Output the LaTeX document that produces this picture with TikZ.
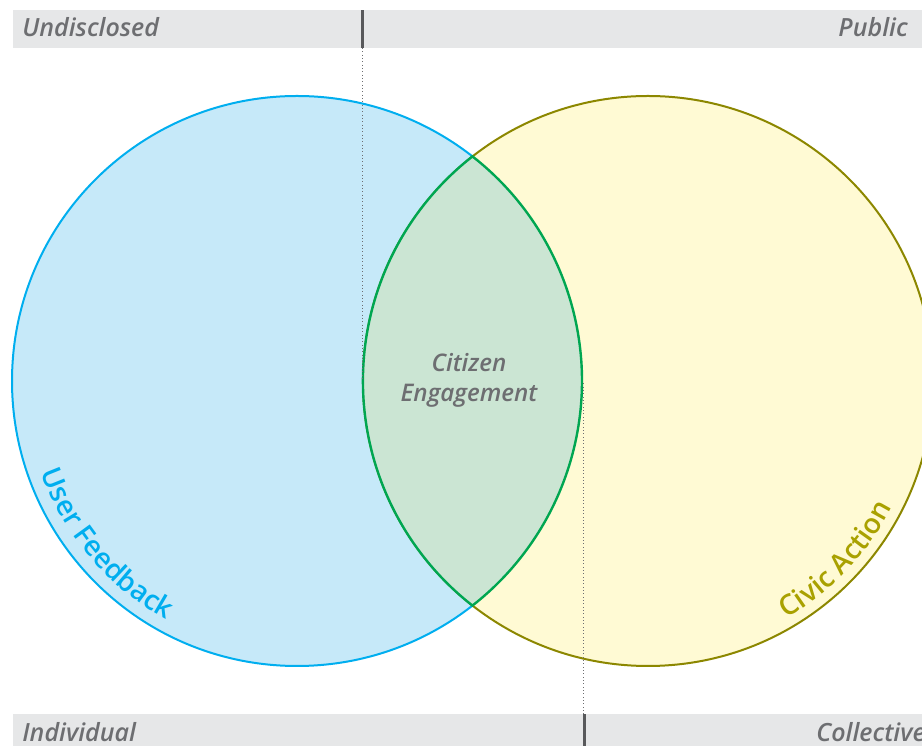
\documentclass[tikz,border=0pt]{standalone}
\usepackage{fontspec}
\setmainfont{Open Sans}
\newfontfamily\semifont{Open Sans Semibold}[ItalicFont={Open Sans Semibold Italic}]
\usepackage{tikz}
\usetikzlibrary{positioning}
\usetikzlibrary{decorations.text}

\definecolor{barfill}{HTML}{E6E7E8}
\definecolor{bartext}{HTML}{6D6E71}
\definecolor{divider}{HTML}{58595B}
\definecolor{userblue}{HTML}{00AEEF}
\definecolor{userfill}{HTML}{C6E9F9}
\definecolor{civicline}{HTML}{8C8700}
\definecolor{civictext}{HTML}{A9A100}
\definecolor{civicfill}{HTML}{FFFAD4}
\definecolor{lensline}{HTML}{00A651}
\definecolor{lensfill}{HTML}{CBE5D3}

\newcommand{\barfont}{\semifont\fontsize{18.8}{22}\selectfont\itshape}
\newcommand{\lensfont}{\semifont\fontsize{18.2}{22}\selectfont\itshape}
\newcommand{\ringfont}{\fontsize{21}{24}\selectfont}

\tikzset{
	barlabel/.style={font=\barfont, text=bartext, inner sep=0pt},
	lenslabel/.style={font=\lensfont, text=bartext, inner sep=0pt},
	guide/.style={dotted, draw=bartext, line width=0.5pt},
}

\begin{document}
\begin{tikzpicture}[x=0.75pt, y=0.75pt]

		% ---------------------
		% Proper size --- Bounding box
		\useasboundingbox (0,0) rectangle (922,746);

		% ---------------------
		% Axis bars
		\fill[barfill] (13,698) rectangle (922,736);
		\fill[barfill] (13,0) rectangle (922,32);
		\fill[divider] (360.5,698) rectangle (363.5,736);
		\fill[divider] (582.5,0) rectangle (585.5,32);

		\node[barlabel, anchor=base west] (Undisclosed) at (22,709) {Undisclosed};
		\node[barlabel, anchor=base east] (Public) at (908,709) {Public};
		\node[barlabel, anchor=base west] (Individual) at (22,4.3) {Individual};
		\node[barlabel, anchor=base west] (Collective) at (816,4.3) {Collective};

		% ---------------------
		% Circles & lens
		\coordinate (UserC) at (297,365);
		\coordinate (CivicC) at (648,365);

		\path (UserC) +(52:285) coordinate (LensTop);
		\path (CivicC) +(180:285) coordinate (LensLeft);
		\path (UserC) +(0:285) coordinate (LensRight);

		\filldraw[fill=userfill, draw=userblue, line width=1.5pt] (UserC) circle[radius=285];
		\filldraw[fill=civicfill, draw=civicline, line width=1.5pt] (CivicC) circle[radius=285];

		\filldraw[fill=lensfill, draw=lensline, line width=1.8pt] (LensTop)
			arc[start angle=128, end angle=232, radius=285]
			arc[start angle=-52, end angle=52, radius=285] -- cycle;

		% ---------------------
		% Guides
		\coordinate (TopTick) at (362,698);
		\coordinate (BotTick) at (583.7,32);
		\draw[guide] (TopTick) -- (TopTick |- LensLeft);
		\draw[guide] (BotTick) -- (BotTick |- LensRight);

		% ---------------------
		% Labels
		\node[lenslabel, anchor=base] (Citizen) at (469,374.3) {Citizen};
		\node[lenslabel, anchor=base] (Engagement) at (469,344.3) {Engagement};

		\path[decorate, decoration={text along path, text align=center,
			text color=userblue, text={|\semifont\ringfont|User Feedback}}]
			(UserC) ++(190:272) arc[start angle=190, end angle=251, radius=272];
		\path[decorate, decoration={text along path, text align=center,
			text color=civictext, text={|\semifont\ringfont|Civic Action}}]
			(CivicC) ++(286:275) arc[start angle=286, end angle=347, radius=275];

\end{tikzpicture}
\end{document}
